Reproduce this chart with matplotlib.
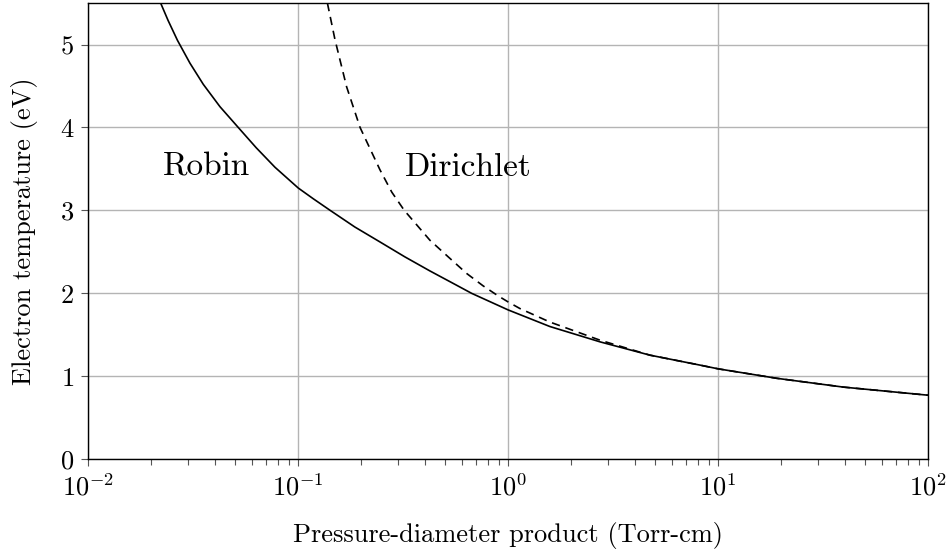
import matplotlib
matplotlib.use("Agg")
import matplotlib.pyplot as plt
from matplotlib.ticker import LogLocator, NullFormatter

plt.rcParams['font.family'] = ['cmr10', 'DejaVu Serif']
plt.rcParams['mathtext.fontset'] = 'cm'
plt.rcParams['axes.formatter.use_mathtext'] = True

# values
robin_pd = [0.0222, 0.0240, 0.0266, 0.0305, 0.0353, 0.0424, 0.0518, 0.0631, 0.0775,
            0.1, 0.118, 0.142, 0.186, 0.245, 0.322, 0.424, 0.547, 0.67, 1.0,
            1.58, 2.74, 4.73, 8.19, 10, 19.0, 39.4, 100]
robin_te = [5.49, 5.29, 5.05, 4.775, 4.52, 4.25, 4.0, 3.755, 3.52,
            3.27, 3.14, 3.0, 2.80, 2.62, 2.44, 2.27, 2.12, 2.0, 1.80,
            1.60, 1.415, 1.255, 1.135, 1.09, 0.976, 0.870, 0.772]

dirichlet_pd = [0.1377, 0.1496, 0.170, 0.197, 0.245, 0.279, 0.320, 0.424, 0.518,
                0.634, 0.760, 0.895, 1.0, 1.137, 1.58, 2.74, 4.73, 8.19, 10,
                19.0, 39.4, 100]
dirichlet_te = [5.5, 5.06, 4.49, 4.0, 3.49, 3.22, 3.0, 2.64, 2.44,
                2.24, 2.09, 1.97, 1.896, 1.817, 1.654, 1.435, 1.255, 1.135, 1.09,
                0.976, 0.870, 0.772]

fig = plt.figure(figsize=(9.49, 5.5), dpi=100)
ax = fig.add_axes([0.093, 0.165, 0.885, 0.8295])

ax.plot(robin_pd, robin_te, color='black', lw=1.2, linestyle='-')
ax.plot(dirichlet_pd, dirichlet_te, color='black', lw=1.2, linestyle=(0, (5, 3.5)))

ax.set_xscale('log')
ax.set_xlim(1e-2, 1e2)
ax.set_ylim(0, 5.5)
ax.set_yticks([0, 1, 2, 3, 4, 5])
ax.xaxis.set_major_locator(LogLocator(base=10, numticks=10))
ax.xaxis.set_minor_locator(LogLocator(base=10, subs=range(2, 10), numticks=20))
ax.xaxis.set_minor_formatter(NullFormatter())

ax.grid(True, which='major', color='#b4b4b4', lw=1.0)
ax.set_axisbelow(True)
ax.tick_params(which='both', direction='out', length=5, width=0.8, colors='#555555',
               labelcolor='black', labelsize=19, pad=5)
ax.tick_params(which='minor', length=4)
for s in ax.spines.values():
    s.set_linewidth(1.0)

ax.text(0.0366, 3.52, 'Robin', fontsize=24, ha='center', va='center')
ax.text(0.643, 3.52, 'Dirichlet', fontsize=24, ha='center', va='center')

ax.set_xlabel('Pressure-diameter product (Torr-cm)', fontsize=19, labelpad=16)
ax.set_ylabel('Electron temperature (eV)', fontsize=19, labelpad=16)

plt.savefig("out.png", dpi=100)
